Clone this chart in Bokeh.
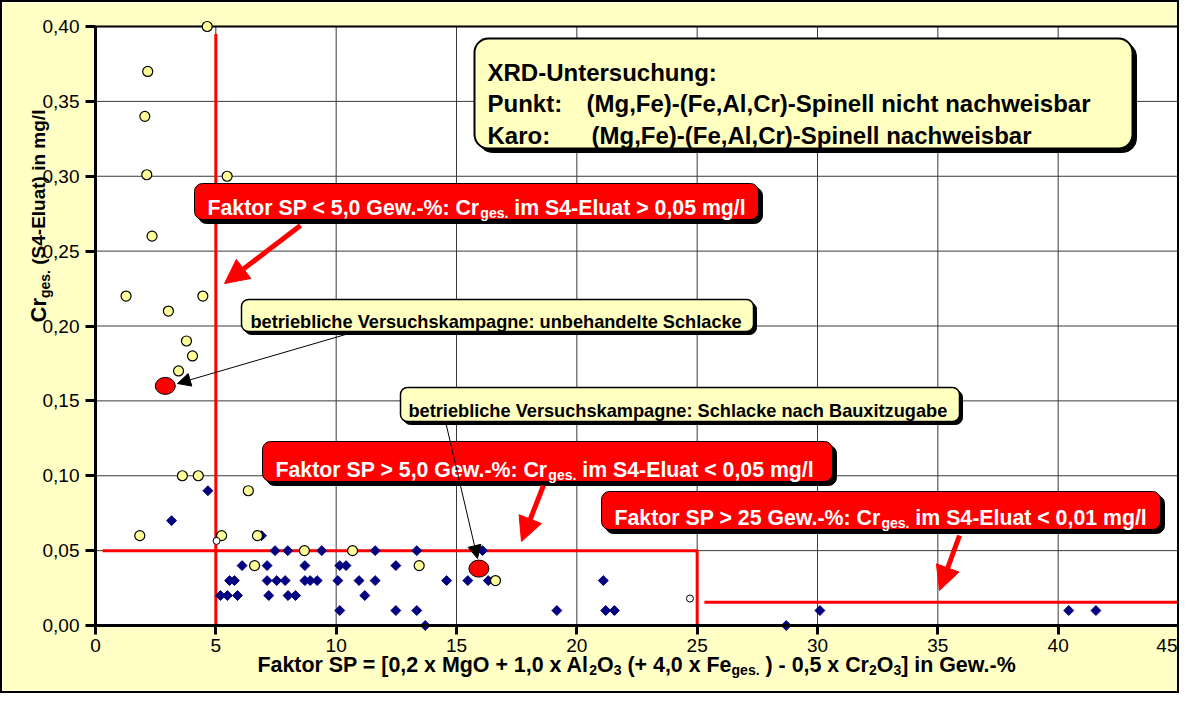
import math
from bokeh.plotting import figure
from bokeh.models import Range1d, FixedTicker, CustomJSTickFormatter, Label, Arrow, NormalHead
from bokeh.embed import file_html
from bokeh.resources import INLINE

# ---------------- data ----------------
# Punkt: (Mg,Fe)-(Fe,Al,Cr)-Spinell nicht nachweisbar
punkt_x = [4.64, 2.17, 2.05, 2.13, 5.47, 2.35, 1.27, 4.46, 3.03, 3.78, 4.03, 3.45,
           3.61, 4.27, 6.35, 1.84, 5.24, 6.73, 8.68, 6.61, 10.68, 13.45, 16.62]
punkt_y = [0.40, 0.37, 0.34, 0.301, 0.30, 0.26, 0.22, 0.22, 0.21, 0.19, 0.18, 0.17,
           0.10, 0.10, 0.09, 0.06, 0.06, 0.06, 0.05, 0.04, 0.05, 0.04, 0.03]

# Karo: (Mg,Fe)-(Fe,Al,Cr)-Spinell nachweisbar
karo_x = [4.67, 3.16, 6.90,
          7.46, 7.99, 9.40, 11.62, 13.35, 16.08,
          6.09, 7.13, 8.70, 10.15, 10.41, 12.48,
          5.57, 5.77, 7.13, 7.53, 7.88, 8.70, 8.92, 9.21, 10.07, 10.95, 11.62, 14.59, 15.47, 16.32, 21.10,
          5.19, 5.48, 5.90, 7.20, 8.00, 8.31, 11.19,
          10.15, 12.48, 13.35, 19.17, 21.20, 21.56, 30.10, 40.44, 41.57,
          13.70, 28.70]
karo_y = [0.09, 0.07, 0.06,
          0.05, 0.05, 0.05, 0.05, 0.05, 0.05,
          0.04, 0.04, 0.04, 0.04, 0.04, 0.04,
          0.03, 0.03, 0.03, 0.03, 0.03, 0.03, 0.03, 0.03, 0.03, 0.03, 0.03, 0.03, 0.03, 0.03, 0.03,
          0.02, 0.02, 0.02, 0.02, 0.02, 0.02, 0.02,
          0.01, 0.01, 0.01, 0.01, 0.01, 0.01, 0.01, 0.01, 0.01,
          0.00, 0.00]

# betriebliche Versuchskampagne (unbehandelt / nach Bauxitzugabe)
kampagne_x = [2.90, 15.93]
kampagne_y = [0.160, 0.038]

# small open circles
misc_x = [5.03, 24.70]
misc_y = [0.0565, 0.018]

x_ticks = [0, 5, 10, 15, 20, 25, 30, 35, 40, 45]
y_ticks = [0.0, 0.05, 0.10, 0.15, 0.20, 0.25, 0.30, 0.35, 0.40]

# threshold lines
sp5_x = [5, 5]
sp5_y = [0.0, 0.395]
cr005_x = [0.29, 25, 25]
cr005_y = [0.05, 0.05, 0.0]
cr001_x = [25.3, 45]
cr001_y = [0.0155, 0.0155]

# ---------------- geometry ----------------
FONT = "Liberation Sans"
XMIN, XMAX, YMIN, YMAX = 0.0, 45.0, 0.0, 0.40
# reference pixel geometry of the plot area (for annotation placement)
FL, FR, FT, FB = 101.0, 1184.0, 26.0, 625.0
SX = (FR - FL) / (XMAX - XMIN)
SY = (FB - FT) / (YMAX - YMIN)
# canvas geometry
CW, CH = 1179, 693
CX0, CY0 = 93.0, 623.0   # canvas pixel of data (0, 0)


def dx(px):
    return XMIN + (px - FL) / SX


def dy(py):
    return YMIN + (FB - py) / SY


BW = {' ': 278, '!': 333, '%': 889, '(': 333, ')': 333, '+': 584, ',': 278, '-': 333,
      '.': 278, '/': 278, ':': 333, '<': 584, '=': 584, '>': 584, '[': 333, ']': 333,
      'A': 722, 'C': 722, 'D': 722, 'E': 667, 'F': 611, 'G': 778, 'K': 722, 'M': 833,
      'O': 778, 'P': 667, 'R': 722, 'S': 667, 'U': 722, 'V': 667, 'X': 667,
      'a': 556, 'b': 611, 'c': 556, 'd': 611, 'e': 556, 'f': 333, 'g': 611, 'h': 611,
      'i': 278, 'k': 556, 'l': 278, 'm': 889, 'n': 611, 'o': 611, 'p': 611, 'r': 389,
      's': 556, 't': 333, 'u': 611, 'v': 556, 'w': 778, 'x': 556, 'y': 556, 'z': 500}
for _d in "0123456789":
    BW[_d] = 556


def tw(s, size):
    return sum(BW.get(c, 600) for c in s) * size / 1000.0


def add_text(p, px0, py0, pieces, color, angle=0.0):
    x0, y0 = dx(px0), dy(py0)
    off = 0.0
    for text, size, shift in pieces:
        lead = len(text) - len(text.lstrip(' '))
        trail = len(text) - len(text.rstrip(' '))
        t = text.strip(' ')
        off += lead * BW[' '] * size / 1000.0
        if t:
            kw = dict(text=t, text_font=FONT, text_font_size=f"{size}px",
                      text_font_style="bold", text_color=color,
                      text_align="left", text_baseline="alphabetic")
            if angle == 0:
                lab = Label(x=x0, y=y0, x_offset=off, y_offset=-shift, **kw)
            else:
                lab = Label(x=x0, y=y0, x_offset=shift, y_offset=off, angle=angle, **kw)
            p.add_layout(lab)
        off += tw(t, size) + trail * BW[' '] * size / 1000.0
    return off


def total_width(pieces):
    return sum(tw(t, s) for t, s, _ in pieces)


def rounded_box(p, l, r, t, b, fill, radius, line_width, shadow=4):
    p.quad(left=[dx(l + shadow)], right=[dx(r + shadow)], top=[dy(t + shadow)],
           bottom=[dy(b + shadow)], fill_color="black", line_color="black",
           border_radius=radius)
    p.quad(left=[dx(l)], right=[dx(r)], top=[dy(t)], bottom=[dy(b)],
           fill_color=fill, line_color="black", line_width=line_width,
           border_radius=radius)


# ---------------- figure ----------------
p = figure(width=CW, height=CH,
           x_range=Range1d(XMIN - CX0 / SX, XMIN + (CW - CX0) / SX),
           y_range=Range1d(YMIN - (CH - CY0) / SY, YMIN + CY0 / SY),
           output_backend="svg", toolbar_location=None,
           min_border_left=0, min_border_right=0, min_border_top=0, min_border_bottom=0)
p.styles = {"border": "2px solid black"}
p.background_fill_color = "#FFFFC6"
p.border_fill_color = "#FFFFC6"
p.outline_line_color = None
p.xgrid.visible = False
p.ygrid.visible = False

# white plot area
p.quad(left=[XMIN], right=[XMAX], bottom=[YMIN], top=[YMAX], fill_color="white",
       line_color=None, level="image")

# grid lines from tick lists
gx = [t for t in x_ticks if XMIN < t < XMAX]
gy = [t for t in y_ticks if YMIN < t < YMAX]
p.segment(x0=gx, y0=[YMIN] * len(gx), x1=gx, y1=[YMAX] * len(gx),
          line_color="#3a3a3a", line_width=1, level="underlay")
p.segment(x0=[XMIN] * len(gy), y0=gy, x1=[XMAX] * len(gy), y1=gy,
          line_color="#3a3a3a", line_width=1, level="underlay")
# plot area border
p.quad(left=[XMIN], right=[XMAX], bottom=[YMIN], top=[YMAX], fill_color=None,
       line_color="black", line_width=2, level="underlay")

for ax in (p.xaxis, p.yaxis):
    ax.axis_line_width = 3
    ax.axis_line_color = "black"
    ax.major_tick_line_width = 3
    ax.major_tick_line_color = "black"
    ax.major_tick_in = 0
    ax.minor_tick_line_color = None
    ax.major_label_text_font = FONT
    ax.major_label_text_font_size = "19px"
    ax.major_label_text_color = "black"
    ax.fixed_location = 0

p.xaxis.bounds = (XMIN, XMAX)
p.yaxis.bounds = (YMIN, YMAX)
p.xaxis.ticker = FixedTicker(ticks=x_ticks)
p.yaxis.ticker = FixedTicker(ticks=y_ticks)
p.xaxis.major_tick_out = 9
p.yaxis.major_tick_out = 10
p.xaxis.major_label_standoff = 4
p.yaxis.major_label_standoff = 6
p.yaxis.formatter = CustomJSTickFormatter(code="return tick.toFixed(2).replace('.', ',');")

# threshold lines
p.line(sp5_x, sp5_y, line_color="#FF0000", line_width=3)
p.line(cr005_x, cr005_y, line_color="#FF0000", line_width=3)
p.line(cr001_x, cr001_y, line_color="#FF0000", line_width=3)

# data points
p.scatter(karo_x, karo_y, marker="square", size=7, angle=math.pi / 4,
          fill_color="#000080", line_color="#000080", line_width=1)
p.scatter(punkt_x, punkt_y, marker="circle", size=10,
          fill_color="#FFFF99", line_color="black", line_width=1.2)
p.scatter(misc_x, misc_y, marker="circle", size=7,
          fill_color="white", line_color="black", line_width=1)
p.ellipse(kampagne_x, kampagne_y, width=20, height=17, width_units="screen",
          height_units="screen", fill_color="#FF0000", line_color="black", line_width=1)

# ---------------- annotation boxes ----------------
rounded_box(p, 480, 1138, 38, 148, "#FFFFC0", 14, 2, shadow=4)
rounded_box(p, 247, 759, 299, 331, "#FFFFC0", 7, 1.5, shadow=3)
rounded_box(p, 406, 965, 387, 421, "#FFFFC0", 7, 1.5, shadow=3)
rounded_box(p, 200, 764, 183, 219, "#FF0000", 8, 1, shadow=4)
rounded_box(p, 268, 838, 441, 481, "#FF0000", 8, 1, shadow=4)
rounded_box(p, 607, 1166, 491, 529, "#FF0000", 8, 1, shadow=4)

# XRD legend text
add_text(p, 493, 72, [("XRD-Untersuchung:", 24, 0)], "black")
add_text(p, 493, 103, [("Punkt:", 24, 0)], "black")
add_text(p, 592, 103, [("(Mg,Fe)-(Fe,Al,Cr)-Spinell nicht nachweisbar", 24, 0)], "black")
add_text(p, 493, 135, [("Karo:", 24, 0)], "black")
add_text(p, 597, 135, [("(Mg,Fe)-(Fe,Al,Cr)-Spinell nachweisbar", 24, 0)], "black")

# red boxes text
BS = 21.3
add_text(p, 213, 207, [("Faktor SP < 5,0 Gew.-%: Cr", BS, 0), ("ges.", 14, 5),
                       (" im S4-Eluat > 0,05 mg/l", BS, 0)], "white")
add_text(p, 281, 469, [("Faktor SP > 5,0 Gew.-%: Cr", BS, 0), ("ges.", 14, 5),
                       (" im S4-Eluat < 0,05 mg/l", BS, 0)], "white")
add_text(p, 620, 517, [("Faktor SP > 25 Gew.-%: Cr", BS, 0), ("ges.", 14, 5),
                       (" im S4-Eluat < 0,01 mg/l", BS, 0)], "white")

# yellow boxes text
add_text(p, 256, 321, [("betriebliche Versuchskampagne: unbehandelte Schlacke", 18.2, 0)], "black")
add_text(p, 414, 410, [("betriebliche Versuchskampagne: Schlacke nach Bauxitzugabe", 18.2, 0)], "black")


# arrows
def red_arrow(x0, y0, x1, y1):
    p.add_layout(Arrow(end=NormalHead(size=24, fill_color="#FF0000", line_color="#FF0000"),
                       x_start=dx(x0), y_start=dy(y0), x_end=dx(x1), y_end=dy(y1),
                       line_color="#FF0000", line_width=5))


def black_arrow(x0, y0, x1, y1):
    p.add_layout(Arrow(end=NormalHead(size=13, fill_color="black", line_color="black"),
                       x_start=dx(x0), y_start=dy(y0), x_end=dx(x1), y_end=dy(y1),
                       line_color="black", line_width=1))


red_arrow(306, 225, 230, 283)
red_arrow(549, 485, 527, 541)
red_arrow(965, 535, 945, 590)
black_arrow(358, 332, 183, 383)
black_arrow(451, 421, 483, 558)

# axis titles (rich text with subscripts)
TS = 21.4
xt = [("Faktor SP = [0,2 x MgO + 1,0 x Al", TS, 0), ("2", 14, 5), ("O", TS, 0), ("3", 14, 5),
      (" (+ 4,0 x Fe", TS, 0), ("ges.", 14, 5), (" ) - 0,5 x Cr", TS, 0), ("2", 14, 5),
      ("O", TS, 0), ("3", 14, 5), ("] in Gew.-%", TS, 0)]
add_text(p, (FL + FR) / 2 - total_width(xt) / 2, 664, xt, "black")

yt = [("Cr", 22, 0), ("ges.", 14, 6), (" (S4-Eluat) in mg/l", 19, 0)]
add_text(p, 44, 322, yt, "black", angle=math.pi / 2)

open("out.html", "w").write(file_html(p, INLINE))
